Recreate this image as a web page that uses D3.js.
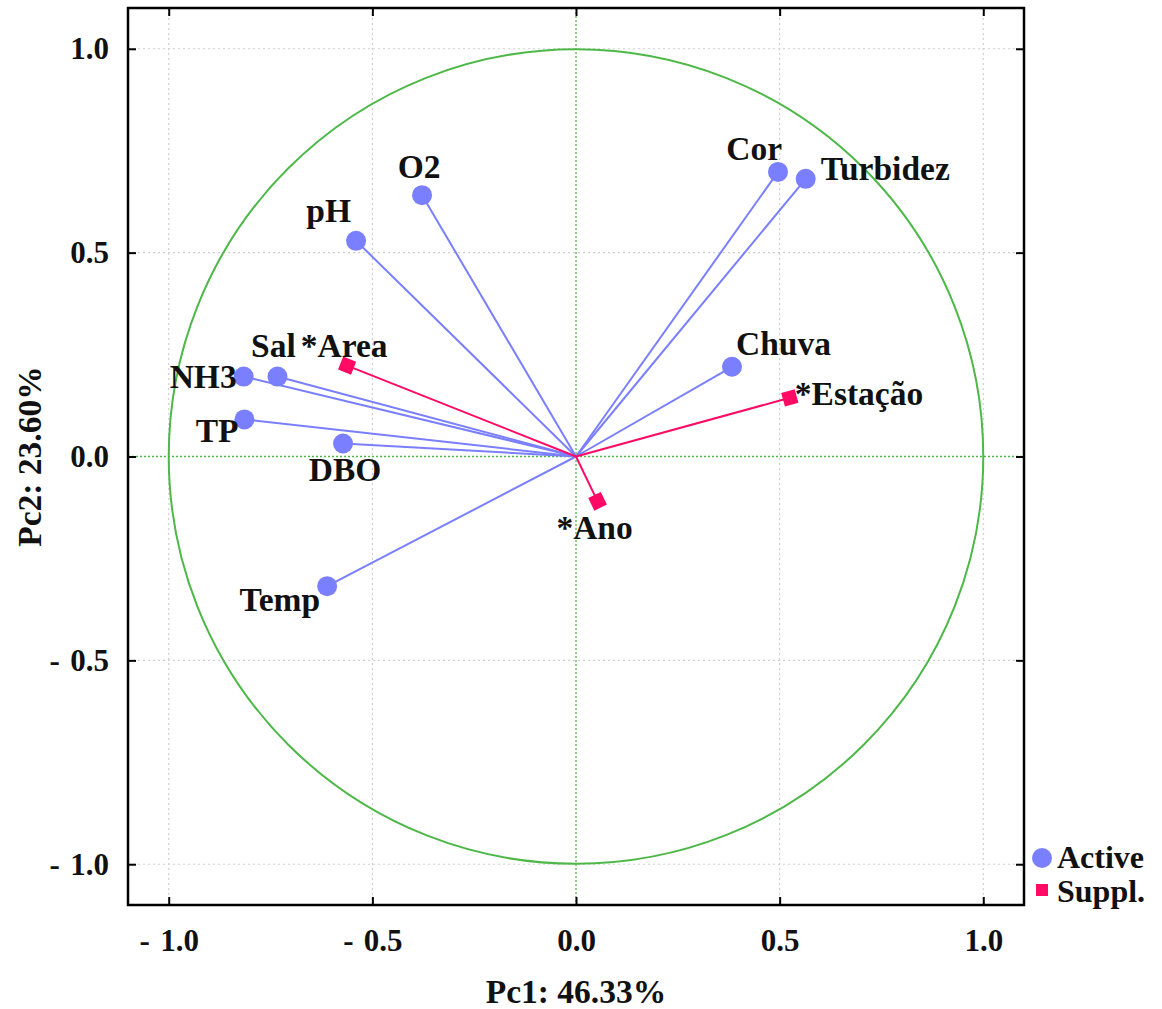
<!DOCTYPE html>
<html>
<head>
<meta charset="utf-8">
<script src="https://cdn.jsdelivr.net/npm/d3@7"></script>
<style>
body { margin:0; background:#fff; }
text { font-family:"Liberation Serif","Times New Roman",serif; font-weight:bold; fill:#111; }
</style>
</head>
<body>
<svg width="1162" height="1009"></svg>
<script>
// active variables
var activeNames = ["Cor","Turbidez","O2","pH","Chuva","Sal","NH3","TP","DBO","Temp"]
var activePc1 = [0.496, 0.564, -0.378, -0.540, 0.383, -0.733, -0.816, -0.814, -0.572, -0.611]
var activePc2 = [0.698, 0.681, 0.641, 0.529, 0.220, 0.196, 0.196, 0.091, 0.032, -0.318]

// supplementary variables
var suppNames = ["*Area","*Estação","*Ano"]
var suppPc1 = [-0.562, 0.525, 0.053]
var suppPc2 = [0.223, 0.144, -0.110]

var tickValues = [-1.0, -0.5, 0.0, 0.5, 1.0]

// label placement (dx, dy from point, anchor)
var labelPos = {
  "Cor":[4,-12,"end"], "Turbidez":[15,1,"start"], "O2":[-3,-17,"middle"],
  "pH":[-5,-19,"end"], "Chuva":[4,-12,"start"], "Sal":[-4,-20,"middle"],
  "NH3":[-7,11,"end"], "TP":[-6,23,"end"], "DBO":[2,38,"middle"],
  "Temp":[-7,25,"end"], "*Area":[-3,-9,"middle"], "*Estação":[5,7,"start"],
  "*Ano":[-3,38,"middle"]
}

var plot = {left:128, right:1024, top:8, bottom:905}
var blue = "#7a7fff", pink = "#ff0a64", green = "#4db848"

var svg = d3.select("svg")

var x = d3.scaleLinear().domain([-1.1,1.1]).range([plot.left,plot.right])
var y = d3.scaleLinear().domain([-1.1,1.1]).range([plot.bottom,plot.top])

var fmt = function(d){ return d < 0 ? "-\u2004" + Math.abs(d).toFixed(1) : d.toFixed(1) }

// grid
var grid = svg.append("g")
tickValues.filter(function(d){return d!==0}).forEach(function(v){
  grid.append("line").attr("x1",x(v)).attr("x2",x(v)).attr("y1",plot.top).attr("y2",plot.bottom)
    .attr("stroke","#cfcfcf").attr("stroke-width",1.2).attr("stroke-dasharray","2,3")
  grid.append("line").attr("y1",y(v)).attr("y2",y(v)).attr("x1",plot.left).attr("x2",plot.right)
    .attr("stroke","#cfcfcf").attr("stroke-width",1.2).attr("stroke-dasharray","2,3")
})
grid.append("line").attr("x1",x(0)).attr("x2",x(0)).attr("y1",plot.top).attr("y2",plot.bottom)
  .attr("stroke",green).attr("stroke-width",1.3).attr("stroke-dasharray","2,2")
grid.append("line").attr("y1",y(0)).attr("y2",y(0)).attr("x1",plot.left).attr("x2",plot.right)
  .attr("stroke",green).attr("stroke-width",1.3).attr("stroke-dasharray","2,2")

// unit circle
svg.append("circle")
  .attr("cx",x(0)).attr("cy",y(0)).attr("r",x(1)-x(0))
  .attr("fill","none").attr("stroke",green).attr("stroke-width",2)

// axes
var axisStyle = function(g){
  g.select(".domain").remove()
  g.selectAll(".tick line").attr("stroke","#000").attr("stroke-width",2)
  g.selectAll(".tick text").style("font-size","31px").style("font-family","Liberation Serif").attr("fill","#111")
}
svg.append("g").attr("transform","translate(0,"+plot.bottom+")")
  .call(d3.axisBottom(x).tickValues(tickValues).tickFormat(fmt).tickSize(-8).tickPadding(24))
  .call(axisStyle)
svg.append("g").attr("transform","translate("+plot.left+",0)")
  .call(d3.axisLeft(y).tickValues(tickValues).tickFormat(fmt).tickSize(-8).tickPadding(19))
  .call(axisStyle)
svg.append("g").attr("transform","translate(0,"+plot.top+")")
  .call(d3.axisTop(x).tickValues(tickValues).tickFormat("").tickSize(-8))
  .call(axisStyle)
svg.append("g").attr("transform","translate("+plot.right+",0)")
  .call(d3.axisRight(y).tickValues(tickValues).tickFormat("").tickSize(-8))
  .call(axisStyle)

// frame
svg.append("rect").attr("x",plot.left).attr("y",plot.top)
  .attr("width",plot.right-plot.left).attr("height",plot.bottom-plot.top)
  .attr("fill","none").attr("stroke","#000").attr("stroke-width",2.5)

var active = activeNames.map(function(n,i){ return {name:n, pc1:activePc1[i], pc2:activePc2[i]} })
var supp = suppNames.map(function(n,i){ return {name:n, pc1:suppPc1[i], pc2:suppPc2[i]} })

// vectors
svg.append("g").selectAll("line").data(active).enter().append("line")
  .attr("x1",x(0)).attr("y1",y(0))
  .attr("x2",function(d){return x(d.pc1)}).attr("y2",function(d){return y(d.pc2)})
  .attr("stroke",blue).attr("stroke-width",2)
svg.append("g").selectAll("line").data(supp).enter().append("line")
  .attr("x1",x(0)).attr("y1",y(0))
  .attr("x2",function(d){return x(d.pc1)}).attr("y2",function(d){return y(d.pc2)})
  .attr("stroke",pink).attr("stroke-width",2)

// points
svg.append("g").selectAll("circle").data(active).enter().append("circle")
  .attr("cx",function(d){return x(d.pc1)}).attr("cy",function(d){return y(d.pc2)})
  .attr("r",10).attr("fill",blue)
svg.append("g").selectAll("rect").data(supp).enter().append("rect")
  .attr("x",-7).attr("y",-7).attr("width",14).attr("height",14).attr("fill",pink)
  .attr("transform",function(d){
    var ang = Math.atan2(y(d.pc2)-y(0), x(d.pc1)-x(0))*180/Math.PI
    return "translate("+x(d.pc1)+","+y(d.pc2)+") rotate("+ang+")"
  })

// labels
svg.append("g").selectAll("text").data(active.concat(supp)).enter().append("text")
  .attr("x",function(d){return x(d.pc1)+labelPos[d.name][0]})
  .attr("y",function(d){return y(d.pc2)+labelPos[d.name][1]})
  .attr("text-anchor",function(d){return labelPos[d.name][2]})
  .style("font-size","33.5px")
  .text(function(d){return d.name})

// axis titles
svg.append("text").attr("x",x(0)).attr("y",1003).attr("text-anchor","middle")
  .style("font-size","33.5px").text("Pc1: 46.33%")
svg.append("text").attr("transform","translate(41,"+y(0)+") rotate(-90)").attr("text-anchor","middle")
  .style("font-size","33.5px").text("Pc2: 23.60%")

// legend
var legend = svg.append("g")
legend.append("circle").attr("cx",1042).attr("cy",858).attr("r",10).attr("fill",blue)
legend.append("text").attr("x",1057).attr("y",868).style("font-size","32px").text("Active")
legend.append("rect").attr("x",1036).attr("y",884).attr("width",12).attr("height",12).attr("fill",pink)
legend.append("text").attr("x",1057).attr("y",902).style("font-size","32px").text("Suppl.")
</script>
</body>
</html>
